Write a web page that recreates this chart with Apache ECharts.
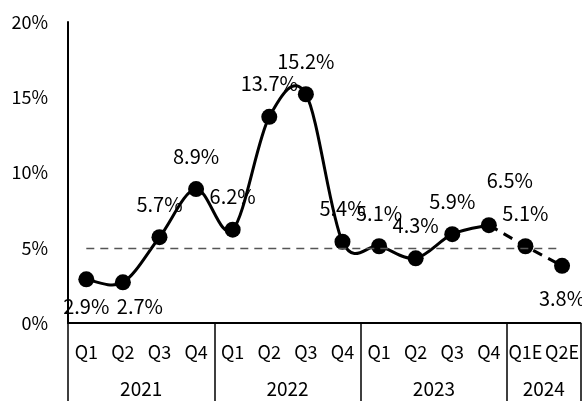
<!DOCTYPE html>
<html><head><meta charset="utf-8">
<script src="https://cdn.jsdelivr.net/npm/echarts@6/dist/echarts.min.js"></script>
<style>html,body{margin:0;padding:0;background:#fff}#c{width:582px;height:401px}</style>
</head><body><div id="c"></div>
<script>
// ---- data ----
const quarters = ['Q1','Q2','Q3','Q4','Q1','Q2','Q3','Q4','Q1','Q2','Q3','Q4','Q1E','Q2E'];
const years = ['2021','2022','2023','2024'];
const quartersPerYear = [4, 4, 4, 2];
const growth = [2.9, 2.7, 5.7, 8.9, 6.2, 13.7, 15.2, 5.4, 5.1, 4.3, 5.9, 6.5, 5.1, 3.8];
const forecastStart = 12;      // index of first forecast quarter (Q1E)
const referenceLevel = 5;      // dashed reference line (%)
const yMin = 0, yMax = 20, yStep = 5;

// ---- derived layout helpers ----
const FONT = '"Noto Sans CJK SC", "Noto Sans", sans-serif';
const n = quarters.length;
const yearBounds = [0];
quartersPerYear.forEach(c => yearBounds.push(yearBounds[yearBounds.length - 1] + c));
const yearCenters = years.map((y, i) => (yearBounds[i] + yearBounds[i + 1]) / 2);
const yearAt = {};
yearCenters.forEach((c, i) => { yearAt[c] = years[i]; });

// per-label placement tweaks (style only)
const labelBelow = {0: true, 1: true, 13: true};
const labelOffset = {0: [0, -6], 1: [17, -9], 11: [21, -12]};

function makeData(from, to) {
  return growth.map((v, i) => {
    if (i < from || i > to) return null;
    const lab = {};
    if (labelBelow[i]) lab.position = 'bottom';
    if (labelOffset[i]) lab.offset = labelOffset[i];
    return {value: v, label: lab};
  });
}

const solidData = makeData(0, forecastStart - 1);
const dashData = makeData(forecastStart - 1, n - 1);
dashData[forecastStart - 1] = {value: growth[forecastStart - 1], symbol: 'none', label: {show: false}};

// segments of the smoothed (actual) curve: one item per segment start
const segData = growth.slice(0, forecastStart - 1).map((v, i) => [i, v]);

const labelCommon = {
  show: true, position: 'top', distance: 15,
  formatter: p => p.value.toFixed(1) + '%',
  color: '#000', fontSize: 20, fontFamily: FONT
};

function renderSegment(params, api) {
  const i = api.value(0);
  const last = forecastStart - 1;
  const P = k => api.coord([Math.max(0, Math.min(last, k)), growth[Math.max(0, Math.min(last, k))]]);
  const p0 = P(i - 1), p1 = P(i), p2 = P(i + 1), p3 = P(i + 2);
  const t = 1 / 6;
  return {
    type: 'bezierCurve',
    shape: {
      x1: p1[0], y1: p1[1], x2: p2[0], y2: p2[1],
      cpx1: p1[0] + (p2[0] - p0[0]) * t, cpy1: p1[1] + (p2[1] - p0[1]) * t,
      cpx2: p2[0] - (p3[0] - p1[0]) * t, cpy2: p2[1] - (p3[1] - p1[1]) * t
    },
    style: {stroke: '#000', lineWidth: 3, fill: null, lineCap: 'round'},
    silent: true
  };
}

const chart = echarts.init(document.getElementById('c'), null, {renderer: 'canvas'});
chart.setOption({
  animation: false,
  backgroundColor: '#fff',
  grid: {left: 68, right: 1, top: 22, bottom: 78, containLabel: false},
  xAxis: [
    {
      type: 'category', data: quarters, boundaryGap: true, position: 'bottom',
      axisLine: {show: true, lineStyle: {color: '#000', width: 2}},
      axisTick: {show: false},
      axisLabel: {interval: 0, margin: 20, color: '#000', fontSize: 18, fontFamily: FONT}
    },
    {
      type: 'value', min: 0, max: n, position: 'bottom',
      axisLine: {show: false},
      splitLine: {show: false},
      axisTick: {show: true, inside: false, length: 80, customValues: yearBounds,
                 lineStyle: {color: '#000', width: 1.5}},
      axisLabel: {customValues: yearCenters, margin: 56, color: '#000', fontSize: 19, fontFamily: FONT,
                  formatter: v => yearAt[v] || ''}
    }
  ],
  yAxis: {
    type: 'value', min: yMin, max: yMax, interval: yStep,
    axisLine: {show: true, lineStyle: {color: '#000', width: 2}},
    axisTick: {show: false},
    splitLine: {show: false},
    axisLabel: {formatter: '{value}%', margin: 20, color: '#000', fontSize: 18, fontFamily: FONT}
  },
  series: [
    {
      type: 'custom', coordinateSystem: 'cartesian2d', xAxisIndex: 0, yAxisIndex: 0,
      data: segData, encode: {x: 0, y: 1}, renderItem: renderSegment, clip: false, z: 2
    },
    {
      type: 'line', xAxisIndex: 0, data: solidData,
      symbol: 'circle', symbolSize: 16,
      itemStyle: {color: '#000'},
      lineStyle: {width: 0, opacity: 0},
      label: labelCommon,
      z: 3,
      markLine: {
        silent: true, symbol: 'none', label: {show: false},
        lineStyle: {color: '#555', width: 1.3, type: [8, 6]},
        data: [[{coord: [0, referenceLevel]}, {coord: [n - 1, referenceLevel]}]]
      }
    },
    {
      type: 'line', xAxisIndex: 0, data: dashData, smooth: false,
      symbol: 'circle', symbolSize: 16,
      itemStyle: {color: '#000'},
      lineStyle: {color: '#000', width: 3, type: [10, 7]},
      label: labelCommon,
      z: 3
    }
  ]
});
</script>
</body></html>
